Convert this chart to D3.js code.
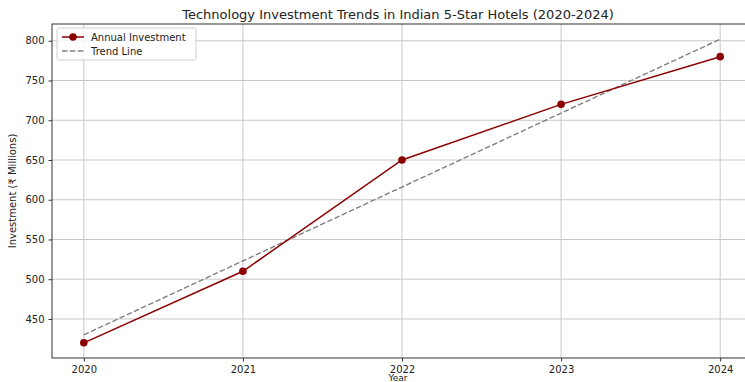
<!DOCTYPE html>
<html lang="en">
<head>
<meta charset="UTF-8">
<title>Technology Investment Trends</title>
<script src="https://cdn.jsdelivr.net/npm/d3@7"></script>
<style>
    body { margin: 0; background: #fff; }
    svg text { font-family: "DejaVu Sans", sans-serif; fill: #222; }
    .axis path, .axis line { stroke: #333; }
    .grid line { stroke: #c8c8c8; stroke-width: 1; }
</style>
</head>
<body>
<script>
const years = [2020, 2021, 2022, 2023, 2024];
const investment = [420, 510, 650, 720, 780];
const trend = [430, 523, 616, 709, 802];
const yTicks = [450, 500, 550, 600, 650, 700, 750, 800];

const w = 745, h = 382;
const margin = {left: 52, top: 24, right: -7, bottom: 24};

const svg = d3.select("body").append("svg")
    .attr("width", w)
    .attr("height", h);

const xScale = d3.scaleLinear()
    .domain([2019.8, 2024.2])
    .range([margin.left, w - margin.right]);

const yScale = d3.scaleLinear()
    .domain([400.9, 821.1])
    .range([h - margin.bottom, margin.top]);

// grid
svg.append("g").attr("class", "grid")
    .selectAll("line.v").data(years).enter().append("line")
    .attr("x1", d => xScale(d)).attr("x2", d => xScale(d))
    .attr("y1", margin.top).attr("y2", h - margin.bottom);
svg.append("g").attr("class", "grid")
    .selectAll("line.h").data(yTicks).enter().append("line")
    .attr("x1", margin.left).attr("x2", w - margin.right)
    .attr("y1", d => yScale(d)).attr("y2", d => yScale(d));

// frame (top/left/bottom visible, right is off-screen)
svg.append("rect")
    .attr("x", margin.left).attr("y", margin.top)
    .attr("width", w - margin.right - margin.left)
    .attr("height", h - margin.bottom - margin.top)
    .attr("fill", "none").attr("stroke", "#333").attr("stroke-width", 1);

const xAxis = d3.axisBottom(xScale).tickValues(years).tickFormat(d3.format("d")).tickSize(3.5).tickPadding(4);
const yAxis = d3.axisLeft(yScale).tickValues(yTicks).tickSize(3.5).tickPadding(4);

svg.append("g").attr("class", "x axis")
    .attr("transform", "translate(0," + (h - margin.bottom) + ")")
    .call(xAxis)
    .call(g => g.select(".domain").remove())
    .selectAll("text").style("font-size", "10px").attr("fill", "#222");

svg.append("g").attr("class", "y axis")
    .attr("transform", "translate(" + margin.left + ",0)")
    .call(yAxis)
    .call(g => g.select(".domain").remove())
    .selectAll("text").style("font-size", "10px").attr("fill", "#222");

// trend line
const line = d3.line().x((d, i) => xScale(years[i])).y(d => yScale(d));

svg.append("path")
    .datum(trend)
    .attr("d", line)
    .attr("fill", "none")
    .attr("stroke", "#808080")
    .attr("stroke-width", 1.4)
    .attr("stroke-dasharray", "5.5,2.4");

svg.append("path")
    .datum(investment)
    .attr("d", line)
    .attr("fill", "none")
    .attr("stroke", "#8b0000")
    .attr("stroke-width", 1.5);

svg.selectAll("circle.pt")
    .data(investment)
    .enter().append("circle")
    .attr("class", "pt")
    .attr("cx", (d, i) => xScale(years[i]))
    .attr("cy", d => yScale(d))
    .attr("r", 3.8)
    .attr("fill", "#8b0000");

// title and labels
svg.append("text")
    .attr("x", 398).attr("y", 19)
    .attr("text-anchor", "middle")
    .style("font-size", "13px")
    .text("Technology Investment Trends in Indian 5-Star Hotels (2020-2024)");

svg.append("text")
    .attr("transform", "translate(16," + ((margin.top + h - margin.bottom) / 2) + ") rotate(-90)")
    .attr("text-anchor", "middle")
    .style("font-size", "10px")
    .text("Investment (₹ Millions)");

svg.append("text")
    .attr("x", 398).attr("y", 381)
    .attr("text-anchor", "middle")
    .style("font-size", "9px")
    .text("Year");

// legend
const lg = svg.append("g").attr("transform", "translate(57,28)");
lg.append("rect")
    .attr("width", 139).attr("height", 32).attr("rx", 2)
    .attr("fill", "#fff").attr("fill-opacity", 0.8)
    .attr("stroke", "#d0d0d0");
lg.append("line").attr("x1", 5).attr("x2", 27).attr("y1", 9).attr("y2", 9)
    .attr("stroke", "#8b0000").attr("stroke-width", 1.5);
lg.append("circle").attr("cx", 16).attr("cy", 9).attr("r", 3.8).attr("fill", "#8b0000");
lg.append("text").attr("x", 34).attr("y", 12.5).style("font-size", "10px").text("Annual Investment");
lg.append("line").attr("x1", 5).attr("x2", 27).attr("y1", 23).attr("y2", 23)
    .attr("stroke", "#808080").attr("stroke-width", 1.4).attr("stroke-dasharray", "5.5,2.4");
lg.append("text").attr("x", 34).attr("y", 26.5).style("font-size", "10px").text("Trend Line");
</script>
</body>
</html>
